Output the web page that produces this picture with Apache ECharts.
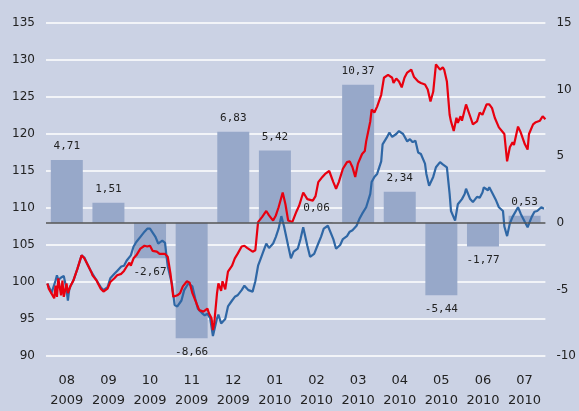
<!DOCTYPE html>
<html>
<head>
<meta charset="utf-8">
<script src="https://cdn.jsdelivr.net/npm/echarts@6/dist/echarts.min.js"></script>
<style>
  html, body { margin: 0; padding: 0; background: #cbd2e4; }
  #main { width: 579px; height: 411px; }
</style>
</head>
<body>
<div id="main"></div>
<script>
// months on the bar axis
var months = ['08\n2009', '09\n2009', '10\n2009', '11\n2009', '12\n2009', '01\n2010',
  '02\n2010', '03\n2010', '04\n2010', '05\n2010', '06\n2010', '07\n2010']
// monthly change, right axis
var monthlyChange = [4.71, 1.51, -2.67, -8.66, 6.83, 5.42, 0.06, 10.37, 2.34, -5.44, -1.77, 0.53]

// daily index lines: [day since 1 Aug 2009, value]
var redLine = [
  [1, 99.8], [2, 99.1], [6, 97.8], [7, 99.5], [8, 98.0], [9, 100.5], [11, 98.2], [12, 100.2],
  [13, 98.0], [15, 99.8], [16, 98.5], [18, 99.5], [20, 100.2], [23, 101.8], [26, 103.6], [27, 103.6],
  [28, 103.2], [30, 102.5], [33, 101.4], [34, 100.9], [37, 100.2], [38, 99.8], [40, 99.1], [42, 98.7],
  [45, 99.1], [47, 100.0], [50, 100.5], [52, 100.9], [55, 101.1], [57, 101.5], [59, 102.1], [61, 102.6],
  [62, 102.2], [64, 103.2], [66, 103.6], [69, 104.5], [72, 104.9], [74, 104.8], [76, 104.9], [78, 104.2],
  [81, 104.1], [83, 103.8], [87, 103.8], [89, 103.4], [91, 101.1], [93, 98.0], [96, 98.2], [98, 98.5],
  [100, 99.4], [103, 100.1], [105, 99.9], [107, 98.5], [110, 97.1], [112, 96.2], [115, 96.0], [118, 96.4],
  [119, 95.8], [121, 95.1], [122, 93.5], [123, 94.5], [125, 98.5], [126, 99.8], [128, 98.8], [129, 100.1],
  [131, 99.0], [133, 101.4], [136, 102.2], [138, 103.2], [140, 103.8], [143, 104.8], [145, 104.9], [147, 104.6],
  [151, 104.1], [153, 104.3], [155, 108.1], [158, 108.8], [161, 109.6], [163, 109.0], [166, 108.3], [168, 109.0],
  [170, 110.1], [173, 112.1], [175, 110.5], [177, 108.3], [180, 108.1], [183, 109.5], [185, 110.3], [188, 112.1],
  [189, 112.3], [191, 111.2], [195, 111.0], [197, 111.6], [199, 113.5], [202, 114.2], [204, 114.6], [207, 115.0],
  [210, 113.5], [212, 112.6], [214, 113.5], [217, 115.3], [220, 116.2], [222, 116.3], [224, 115.5], [226, 114.2],
  [228, 116.0], [231, 117.3], [233, 117.7], [234, 119.0], [237, 121.7], [238, 123.3], [240, 122.9], [242, 123.7],
  [245, 125.3], [247, 127.6], [250, 128.0], [253, 127.6], [254, 126.9], [256, 127.5], [258, 127.1], [260, 126.3],
  [262, 127.6], [264, 128.3], [267, 128.7], [269, 127.7], [272, 127.1], [274, 126.9], [277, 126.7], [279, 126.0],
  [281, 124.4], [283, 125.7], [285, 129.4], [288, 128.7], [290, 129.0], [291, 128.7], [293, 127.1], [295, 122.6],
  [296, 121.7], [298, 120.4], [300, 122.2], [301, 121.5], [303, 122.4], [304, 121.8], [307, 124.0], [310, 122.4],
  [312, 121.3], [315, 121.7], [317, 122.9], [319, 122.6], [322, 124.0], [324, 124.0], [326, 123.5], [328, 122.2],
  [331, 120.9], [335, 120.0], [337, 116.3], [339, 118.2], [341, 118.9], [342, 118.5], [345, 121.0], [347, 120.2],
  [350, 118.6], [352, 117.9], [353, 120.0], [356, 121.3], [358, 121.6], [361, 121.8], [363, 122.4], [365, 122.0]
]
var blueLine = [
  [1, 99.8], [3, 99.0], [4, 98.5], [7, 100.2], [8, 100.9], [9, 100.3], [11, 100.6], [13, 100.8],
  [15, 99.0], [16, 97.5], [17, 99.0], [18, 99.5], [20, 100.2], [23, 101.8], [26, 103.6], [28, 103.3],
  [30, 102.5], [33, 101.4], [37, 100.2], [40, 99.3], [42, 98.9], [45, 99.3], [47, 100.5], [50, 101.1],
  [52, 101.5], [55, 102.1], [57, 102.2], [59, 102.9], [62, 103.6], [64, 104.8], [66, 105.4], [69, 106.1],
  [72, 106.8], [74, 107.2], [76, 107.2], [80, 106.1], [82, 105.2], [85, 105.6], [87, 105.3], [88, 103.6],
  [89, 102.1], [92, 99.8], [94, 96.9], [96, 96.7], [99, 97.5], [101, 98.9], [104, 99.8], [107, 99.4],
  [109, 97.8], [111, 96.4], [114, 95.8], [116, 95.5], [118, 95.7], [120, 95.1], [122, 92.7], [125, 95.1],
  [126, 95.6], [128, 94.4], [131, 95.0], [133, 96.7], [136, 97.5], [138, 98.0], [140, 98.2], [143, 98.9],
  [145, 99.5], [148, 98.9], [151, 98.7], [153, 100.1], [155, 102.2], [157, 103.2], [159, 104.2], [161, 105.2],
  [163, 104.6], [166, 105.2], [168, 106.1], [170, 107.2], [172, 108.9], [174, 107.5], [177, 104.9], [179, 103.2],
  [181, 104.1], [184, 104.5], [186, 105.8], [188, 107.4], [191, 104.9], [193, 103.4], [196, 103.8], [199, 105.2],
  [201, 106.1], [203, 107.2], [206, 107.6], [207, 107.8], [210, 105.8], [212, 104.5], [215, 105.0], [217, 105.8],
  [220, 106.2], [222, 106.8], [224, 107.0], [227, 107.6], [229, 108.5], [231, 109.2], [234, 110.1], [237, 111.9],
  [238, 113.5], [240, 114.2], [242, 114.6], [245, 116.3], [246, 118.6], [249, 119.5], [251, 120.2], [253, 119.6],
  [256, 120.0], [258, 120.4], [261, 120.0], [264, 119.0], [266, 119.3], [268, 118.9], [270, 119.1], [272, 117.5],
  [274, 117.3], [277, 116.0], [278, 114.6], [280, 113.0], [283, 114.2], [285, 115.5], [288, 116.2], [290, 115.9],
  [293, 115.5], [295, 111.9], [296, 109.6], [299, 108.3], [301, 110.5], [304, 111.2], [306, 111.9], [307, 112.6],
  [310, 111.2], [312, 110.8], [315, 111.5], [317, 111.4], [319, 112.1], [320, 112.8], [323, 112.4], [324, 112.8],
  [326, 112.1], [329, 111.0], [331, 110.1], [334, 109.6], [335, 107.5], [337, 106.2], [339, 107.9], [341, 108.8],
  [342, 108.6], [345, 110.1], [347, 109.2], [350, 108.1], [352, 107.4], [355, 108.8], [357, 109.5], [359, 109.6],
  [362, 110.1], [364, 109.9]
]

var myChart = echarts.init(document.getElementById('main'))

// labels above positive bars, below negative ones
var barData = monthlyChange.map(function (v) {
  return { value: v, label: { position: v < 0 ? 'bottom' : 'top' } }
})

var option = {
  backgroundColor: '#cbd2e4',
  animation: false,
  grid: { left: 46, right: 33, top: 23, bottom: 53 },
  xAxis: [
    {
      type: 'category',
      data: months,
      axisLine: { show: false },
      axisTick: { show: false },
      axisLabel: { interval: 0, color: '#222', fontFamily: 'DejaVu Sans', fontSize: 13, lineHeight: 20, margin: 15 }
    },
    {
      type: 'value',
      min: 0,
      max: 365,
      show: false
    }
  ],
  yAxis: [
    {
      type: 'value',
      min: 90,
      max: 135,
      interval: 5,
      axisLine: { show: false },
      axisTick: { show: false },
      axisLabel: { color: '#222', fontFamily: 'DejaVu Sans', fontSize: 12, margin: 11 },
      splitLine: { lineStyle: { color: '#ffffff', width: 1.5 } }
    },
    {
      type: 'value',
      min: -10,
      max: 15,
      interval: 5,
      axisLine: { show: false },
      axisTick: { show: false },
      axisLabel: { color: '#222', fontFamily: 'DejaVu Sans', fontSize: 12, margin: 11 },
      splitLine: { show: false }
    }
  ],
  series: [
    {
      type: 'bar',
      xAxisIndex: 0,
      yAxisIndex: 1,
      barWidth: 32,
      data: barData,
      itemStyle: { color: '#97a8c9' },
      label: {
        show: true,
        distance: 8,
        color: '#222',
        fontFamily: 'DejaVu Sans Mono',
        fontSize: 11,
        formatter: function (p) { return p.value.toFixed(2).replace('.', ',') }
      },
      markLine: {
        silent: true,
        symbol: 'none',
        label: { show: false },
        lineStyle: { color: '#555', width: 1.5, type: 'solid' },
        data: [{ yAxis: 0 }]
      }
    },
    {
      type: 'line',
      xAxisIndex: 1,
      yAxisIndex: 0,
      data: blueLine,
      showSymbol: false,
      lineStyle: { color: '#2f67a5', width: 2.2 }
    },
    {
      type: 'line',
      xAxisIndex: 1,
      yAxisIndex: 0,
      data: redLine,
      showSymbol: false,
      lineStyle: { color: '#e8000f', width: 2.2 }
    }
  ]
}

myChart.setOption(option)
</script>
</body>
</html>
